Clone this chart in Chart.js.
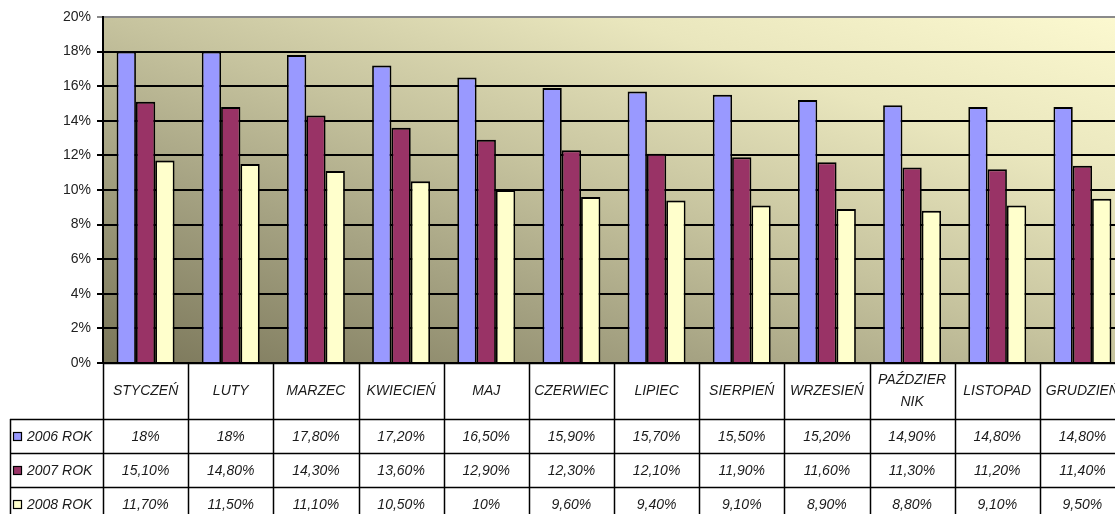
<!DOCTYPE html>
<html>
<head>
<meta charset="utf-8">
<script src="https://cdn.jsdelivr.net/npm/chart.js@4/dist/chart.umd.min.js"></script>
<style>
  html, body { margin: 0; padding: 0; background: #fff; overflow: hidden; }
  #wrap { width: 1127px; height: 514px; }
</style>
</head>
<body>
<div id="wrap"><canvas id="chart" width="1127" height="514"></canvas></div>
<script>
/* ===============================
   DATA
================================= */
const months = ['STYCZEŃ', 'LUTY', 'MARZEC', 'KWIECIEŃ', 'MAJ', 'CZERWIEC', 'LIPIEC',
    'SIERPIEŃ', 'WRZESIEŃ', ['PAŹDZIER', 'NIK'], 'LISTOPAD', 'GRUDZIEŃ'];
const seriesNames = ['2006 ROK', '2007 ROK', '2008 ROK'];
const values2006 = [18, 18, 17.8, 17.2, 16.5, 15.9, 15.7, 15.5, 15.2, 14.9, 14.8, 14.8];
const values2007 = [15.1, 14.8, 14.3, 13.6, 12.9, 12.3, 12.1, 11.9, 11.6, 11.3, 11.2, 11.4];
const values2008 = [11.7, 11.5, 11.1, 10.5, 10, 9.6, 9.4, 9.1, 8.9, 8.8, 9.1, 9.5];
const yTicks = [0, 2, 4, 6, 8, 10, 12, 14, 16, 18, 20];

const colors = ['#9999ff', '#993366', '#ffffcc'];
const FONT = '"Liberation Sans", Arial, sans-serif';

function fmt(v) {
    return Number.isInteger(v) ? v + '%' : v.toFixed(2).replace('.', ',') + '%';
}

/* ===============================
   PLOT BACKGROUND (diagonal gradient)
================================= */
const plotBackground = {
    id: 'plotBackground',
    beforeDraw(chart) {
        const { ctx, chartArea: a } = chart;
        ctx.save();
        ctx.translate(a.left, a.top);
        ctx.scale(a.right - a.left, a.bottom - a.top);
        const g = ctx.createLinearGradient(0, 1, 1, 0);
        g.addColorStop(0, '#7a7659');
        g.addColorStop(0.3, '#a6a383');
        g.addColorStop(0.5, '#c6c39e');
        g.addColorStop(0.75, '#e9e6bd');
        g.addColorStop(1, '#fcf9d0');
        ctx.fillStyle = g;
        ctx.fillRect(0, 0, 1, 1);
        ctx.restore();
    }
};

/* ===============================
   DATA TABLE UNDER THE PLOT
================================= */
const dataTable = {
    id: 'dataTable',
    afterDraw(chart) {
        const { ctx, chartArea: a } = chart;
        const xs = chart.scales.x;
        const n = months.length;
        const colW = (xs.right - xs.left) / n;
        const top = a.bottom;
        const headH = 56;
        const rowH = 34;
        const legendLeft = 10;
        const bottom = top + headH + rowH * 3 + 10;

        ctx.save();
        ctx.strokeStyle = '#000';
        ctx.lineWidth = 1.5;
        ctx.beginPath();
        // top of header row
        ctx.moveTo(xs.left, top + 0.5);
        ctx.lineTo(chart.width, top + 0.5);
        // vertical column lines
        for (let i = 0; i <= n; i++) {
            const x = Math.round(xs.left + i * colW) + 0.5;
            ctx.moveTo(x, top);
            ctx.lineTo(x, bottom);
        }
        // row lines incl. legend column
        for (let r = 0; r <= 3; r++) {
            const y = Math.round(top + headH + r * rowH) + 0.5;
            ctx.moveTo(legendLeft, y);
            ctx.lineTo(chart.width, y);
        }
        ctx.moveTo(legendLeft + 0.5, top + headH);
        ctx.lineTo(legendLeft + 0.5, bottom);
        ctx.stroke();

        ctx.fillStyle = '#1a1a1a';
        ctx.font = 'italic 14px ' + FONT;
        ctx.textAlign = 'center';
        ctx.textBaseline = 'middle';

        // header: month names
        months.forEach((m, i) => {
            const cx = xs.left + (i + 0.5) * colW;
            const lines = Array.isArray(m) ? m : [m];
            const lh = 22;
            const y0 = top + headH / 2 - (lines.length - 1) * lh / 2;
            lines.forEach((t, k) => ctx.fillText(t, cx, y0 + k * lh));
        });

        // rows
        chart.data.datasets.forEach((ds, r) => {
            const cy = top + headH + r * rowH + rowH / 2 + 1;
            // legend key
            ctx.fillStyle = ds.backgroundColor;
            ctx.fillRect(13, cy - 5, 9, 9);
            ctx.strokeStyle = '#000';
            ctx.lineWidth = 1.2;
            ctx.strokeRect(13.5, cy - 4.5, 8, 8);
            ctx.fillStyle = '#1a1a1a';
            ctx.textAlign = 'left';
            ctx.fillText(ds.label, 27, cy);
            ctx.textAlign = 'center';
            ds.data.forEach((v, i) => {
                ctx.fillText(fmt(v), xs.left + (i + 0.5) * colW, cy);
            });
        });
        ctx.restore();
    }
};

/* ===============================
   CHART
================================= */
const barBorder = { top: 2, left: 1.75, right: 1.75, bottom: 0 };

new Chart(document.getElementById('chart').getContext('2d'), {
    type: 'bar',
    data: {
        labels: months,
        datasets: [values2006, values2007, values2008].map((vals, i) => ({
            label: seriesNames[i],
            data: vals,
            backgroundColor: colors[i],
            borderColor: '#000',
            borderWidth: barBorder,
            borderSkipped: false,
            categoryPercentage: 0.68,
            barPercentage: 1
        }))
    },
    options: {
        responsive: false,
        animation: false,
        layout: { padding: { top: 17, left: 0, right: 2, bottom: 151 } },
        plugins: {
            legend: { display: false },
            tooltip: { enabled: false }
        },
        scales: {
            x: { display: false },
            y: {
                min: 0,
                max: 20,
                afterBuildTicks: s => { s.ticks = yTicks.map(v => ({ value: v })); },
                afterFit: s => { s.width = 103; },
                ticks: {
                    color: '#222',
                    padding: 6,
                    font: { family: FONT, size: 14 },
                    callback: v => v + '%'
                },
                grid: {
                    color: ctx => (ctx.tick && ctx.tick.value === 20 ? '#8a8a8a' : '#000'),
                    lineWidth: 2,
                    tickLength: 6,
                    drawTicks: true
                },
                border: { color: '#000', width: 2 }
            }
        }
    },
    plugins: [plotBackground, dataTable]
});
</script>
</body>
</html>
